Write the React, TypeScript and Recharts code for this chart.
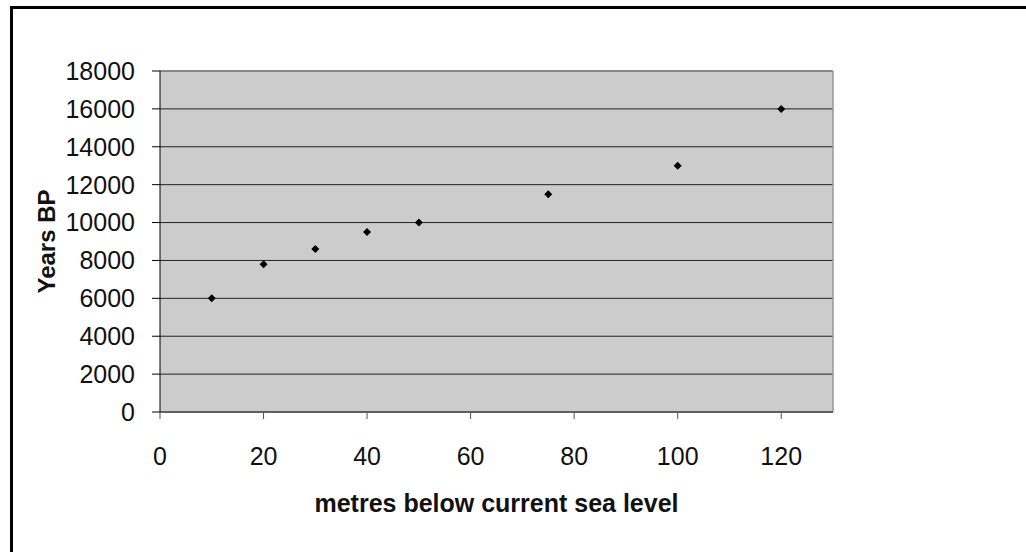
import { ScatterChart, Scatter, XAxis, YAxis, CartesianGrid, ReferenceLine } from 'recharts';

const depths = [10, 20, 30, 40, 50, 75, 100, 120];
const yearsBP = [6000, 7800, 8600, 9500, 10000, 11500, 13000, 16000];
const xTicks = [0, 20, 40, 60, 80, 100, 120];
const yTicks = [0, 2000, 4000, 6000, 8000, 10000, 12000, 14000, 16000, 18000];

const points = depths.map((d, i) => ({ depth: d, years: yearsBP[i] }));

const FONT = '"Liberation Sans", Arial, sans-serif';

function Diamond(props: any) {
  const { cx, cy } = props;
  const r = 4;
  return (
    <path
      d={`M${cx},${cy - r} L${cx + r},${cy} L${cx},${cy + r} L${cx - r},${cy} Z`}
      fill="#000"
    />
  );
}

function YLabel(props: any) {
  const { viewBox } = props;
  const cy = viewBox.y + viewBox.height / 2;
  return (
    <text
      x={46}
      y={cy}
      transform={`rotate(-90, 46, ${cy})`}
      textAnchor="middle"
      dominantBaseline="central"
      fontFamily={FONT}
      fontWeight={700}
      fontSize={24}
      fill="#111"
    >
      Years BP
    </text>
  );
}

function XLabel(props: any) {
  const { viewBox } = props;
  const cx = viewBox.x + viewBox.width / 2;
  return (
    <text
      x={cx}
      y={503}
      textAnchor="middle"
      dominantBaseline="central"
      fontFamily={FONT}
      fontWeight={700}
      fontSize={25}
      fill="#111"
    >
      metres below current sea level
    </text>
  );
}

export default function App() {
  return (
    <div
      style={{
        position: 'absolute',
        left: 0,
        top: 0,
        width: 1026,
        height: 552,
        overflow: 'hidden',
        background: '#fff',
      }}
    >
      {/* cropped frame: only left and top edges visible */}
      <div
        style={{
          position: 'absolute',
          left: 10,
          top: 6,
          width: 1100,
          height: 600,
          borderLeft: '3px solid #000',
          borderTop: '3px solid #000',
        }}
      />
      <div style={{ position: 'absolute', left: 0, top: 0 }}>
        <ScatterChart
          width={1026}
          height={552}
          margin={{ top: 71, right: 193, bottom: 110, left: 60 }}
        >
          <CartesianGrid
            horizontal
            vertical={false}
            fill="#cccccc"
            stroke="#222"
            strokeOpacity={1}
          />
          <XAxis
            type="number"
            dataKey="depth"
            domain={[0, 130]}
            ticks={xTicks}
            allowDataOverflow
            axisLine={{ stroke: '#555', strokeWidth: 1.5 }}
            tickLine={{ stroke: '#555' }}
            tickSize={7}
            tickMargin={28}
            tick={{ fill: '#111', fontSize: 25, fontFamily: FONT }}
            label={<XLabel />}
          />
          <YAxis
            type="number"
            dataKey="years"
            domain={[0, 18000]}
            ticks={yTicks}
            width={100}
            axisLine={{ stroke: '#000' }}
            tickLine={{ stroke: '#000' }}
            tickSize={8}
            tickMargin={17}
            tick={{ fill: '#111', fontSize: 25, fontFamily: FONT }}
            label={<YLabel />}
          />
          <ReferenceLine y={18000} stroke="#888" strokeWidth={1.5} />
          <ReferenceLine x={130} stroke="#999" strokeWidth={1.5} />
          <Scatter data={points} shape={<Diamond />} isAnimationActive={false} />
        </ScatterChart>
      </div>
    </div>
  );
}
